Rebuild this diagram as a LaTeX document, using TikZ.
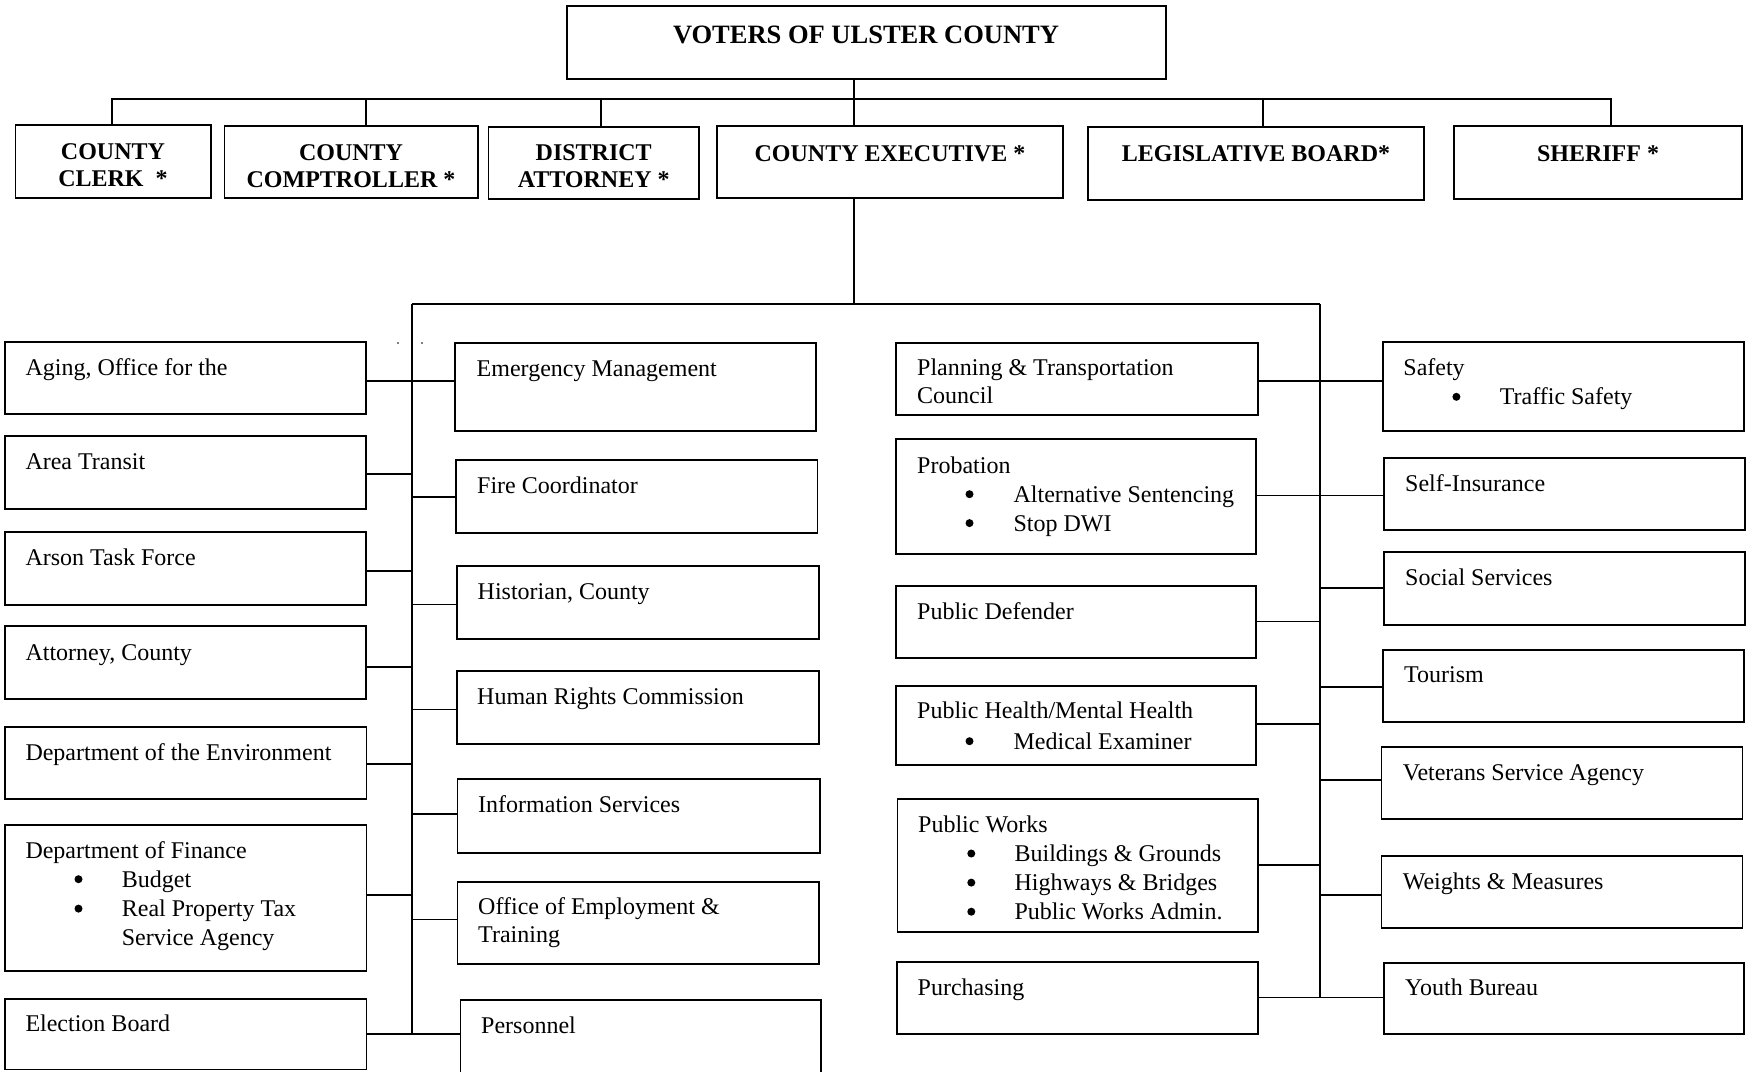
\documentclass[tikz,border=0pt]{standalone}
\usepackage{fontspec}
\setmainfont{Liberation Serif}
\usetikzlibrary{fit}
\tikzset{
  box/.style={draw, line width=1.8pt, inner sep=0pt},
  conn/.style={line width=1.6pt},
  thickconn/.style={line width=2.8pt},
  txt/.style={anchor=base west, inner sep=0pt, font=\fontsize{24}{27.6}\selectfont},
  txtb/.style={anchor=base west, inner sep=0pt, font=\fontsize{24}{29.1}\selectfont},
  hdr/.style={anchor=base, inner sep=0pt, font=\fontsize{24}{27.5}\selectfont\bfseries},
  dot/.style={fill=black},
}
\newcommand\bx[5]{\node[box, fit={(#2,#3) (#4,#5)}] (#1) {};}
\newcommand\bul{\hspace*{96.4pt}}
\newcommand\rows[1]{\begin{tabular}[t]{@{}l@{}}#1\end{tabular}}
\newcommand\crows[1]{\begin{tabular}[t]{@{}c@{}}#1\end{tabular}}
\begin{document}
\begin{tikzpicture}[x=1pt,y=-1pt]
\useasboundingbox (0,0) rectangle (1747,1071);
\fill[white] (0,0) rectangle (1747,1071);
\clip (0,0) rectangle (1747,1071);

% ---------- top level ----------
\bx{voters}{566.6}{6}{1166}{79}
\bx{clerk}{15.5}{125}{210.7}{198}
\bx{comp}{224.5}{126}{478}{198}
\bx{da}{488.5}{127}{699}{199}
\bx{exec}{717}{126}{1063}{198}
\bx{leg}{1088}{127}{1424}{200}
\bx{sheriff}{1454}{126}{1742}{199}

\node[hdr, font=\fontsize{26.5}{30}\selectfont\bfseries] (voters-t) at (866,43) {VOTERS OF ULSTER COUNTY};
\node[hdr] (clerk-t) at (113,159.3) {\crows{COUNTY\\CLERK\ \ *}};
\node[hdr] (comp-t) at (351,160) {\crows{COUNTY\\COMPTROLLER *}};
\node[hdr] (da-t) at (593.7,160) {\crows{DISTRICT\\ATTORNEY *}};
\node[hdr] (exec-t) at (890,161) {COUNTY EXECUTIVE *};
\node[hdr] (leg-t) at (1256,161.7) {LEGISLATIVE BOARD*};
\node[hdr] (sheriff-t) at (1598,161) {SHERIFF *};

\coordinate (top) at (854,99);
\draw[thickconn] (voters.south -| top) -- (exec.north -| top);
\draw[conn] (clerk.north -| 112,0) -- (112,99) -| (sheriff.north -| 1611,0);
\draw[conn] (comp.north -| 366,0) -- (366,99);
\draw[conn] (da.north -| 601,0) -- (601,99);
\draw[conn] (leg.north -| 1263,0) -- (1263,99);

% ---------- departments ----------
% left column
\bx{aging}{5}{342}{366}{414.3}
\bx{area}{5}{436}{366}{508.7}
\bx{arson}{5}{531.7}{366}{604.7}
\bx{attorney}{5}{626}{366}{699}
\bx{env}{5}{726.7}{366.5}{799.3}
\bx{finance}{5}{825.3}{366.5}{970.7}
\bx{election}{5}{999.3}{366.5}{1069.5}

\node[txt] (aging-t) at (25.3,375.5) {Aging, Office for the};
\node[txt] (area-t) at (25.3,469.7) {Area Transit};
\node[txt] (arson-t) at (25.3,565.7) {Arson Task Force};
\node[txt] (attorney-t) at (25.3,660.7) {Attorney, County};
\node[txt] (env-t) at (25.3,760.3) {Department of the Environment};
\node[txtb] (finance-t) at (25.3,858) {\rows{Department of Finance\\ \bul Budget\\ \bul Real Property Tax\\ \bul Service Agency}};
\node[txt] (election-t) at (25.3,1031.3) {Election Board};
\fill[dot] (78.5,879.2) circle (4);
\fill[dot] (78.5,908.6) circle (4);

% middle column
\bx{emerg}{455}{342.7}{816}{431}
\bx{fire}{456}{460.3}{817.5}{532.7}
\bx{hist}{457}{566}{818.6}{638.7}
\bx{hrc}{457}{671}{818.6}{744}
\bx{info}{457.5}{779}{819.7}{852.7}
\bx{oet}{457.5}{882}{818.6}{964.3}
\bx{personnel}{460.4}{1000}{821}{1090}

\node[txt] (emerg-t) at (476.5,376) {Emergency Management};
\node[txt] (fire-t) at (477,493.7) {Fire Coordinator};
\node[txt] (hist-t) at (477.5,599.7) {Historian, County};
\node[txt] (hrc-t) at (477,704.7) {Human Rights Commission};
\node[txt] (info-t) at (478,812.3) {Information Services};
\node[txt] (oet-t) at (478,914.7) {\rows{Office of Employment \&\\Training}};
\node[txt] (personnel-t) at (481,1033) {Personnel};

% right-centre column
\bx{planning}{896.3}{342.7}{1258}{415}
\bx{probation}{896.3}{439}{1256}{554.3}
\bx{pubdef}{896.3}{585.7}{1256}{657.7}
\bx{ph}{896.3}{686}{1256}{765}
\bx{pw}{897.5}{799}{1258}{931.7}
\bx{purch}{897}{962}{1258}{1034}

\node[txt, font=\fontsize{24}{27.3}\selectfont] (planning-t) at (917,375.7) {\rows{Planning \& Transportation\\Council}};
\node[txtb] (probation-t) at (917,473) {\rows{Probation\\ \bul Alternative Sentencing\\ \bul Stop DWI}};
\node[txt] (pubdef-t) at (917,619) {Public Defender};
\node[txt, font=\fontsize{24}{30.5}\selectfont] (ph-t) at (917,718.5) {\rows{Public Health/Mental Health\\ \bul Medical Examiner}};
\node[txtb] (pw-t) at (918,832.3) {\rows{Public Works\\ \bul Buildings \& Grounds\\ \bul Highways \& Bridges\\ \bul Public Works Admin.}};
\node[txt] (purch-t) at (917.5,995.3) {Purchasing};
\fill[dot] (969.5,494.2) circle (4);
\fill[dot] (969.5,523.1) circle (4);
\fill[dot] (969.5,741.2) circle (4);
\fill[dot] (971.3,853.5) circle (4);
\fill[dot] (971.3,882.6) circle (4);
\fill[dot] (971.3,911.7) circle (4);

% right column
\bx{safety}{1382.6}{342.3}{1744}{431}
\bx{selfins}{1383.7}{457.7}{1745}{530}
\bx{social}{1383.7}{552.3}{1745}{625}
\bx{tourism}{1382.6}{650}{1744}{721.7}
\bx{veterans}{1381.5}{747.3}{1742.5}{819.3}
\bx{weights}{1381.5}{856}{1742.5}{928.3}
\bx{youth}{1383.7}{962.7}{1744}{1034.3}

\node[txtb] (safety-t) at (1403.2,375.7) {\rows{Safety\\ \bul Traffic Safety}};
\node[txt] (selfins-t) at (1405,491.3) {Self-Insurance};
\node[txt] (social-t) at (1405,585.7) {Social Services};
\node[txt] (tourism-t) at (1404,682.3) {Tourism};
\node[txt] (veterans-t) at (1402.6,780.7) {Veterans Service Agency};
\node[txt] (weights-t) at (1402.6,889) {Weights \& Measures};
\node[txt] (youth-t) at (1405,995.3) {Youth Bureau};
\fill[dot] (1456.4,396.8) circle (4);

% ---------- bus lines ----------
\coordinate (busL) at (412,304);
\coordinate (busR) at (1320,304);
\coordinate (busC) at (854,304);
\draw[conn] (exec.south -| busC) -- (busC);
\draw[conn] (busL) -- (busR);
\draw[conn] (busL) -- (412,1034);
\draw[conn] (busR) -- (1320,997.3);

% left side connectors
\draw[conn] (aging.east |- 0,381) -- (emerg.west |- 0,381);
\draw[conn] (area.east |- 0,474) -- (busL |- 0,474);
\draw[conn] (arson.east |- 0,570.7) -- (busL |- 0,570.7);
\draw[conn] (attorney.east |- 0,666.7) -- (busL |- 0,666.7);
\draw[conn] (env.east |- 0,763.7) -- (busL |- 0,763.7);
\draw[conn] (finance.east |- 0,895) -- (busL |- 0,895);
\draw[conn] (election.east |- 0,1034) -- (personnel.west |- 0,1034);
\draw[conn] (busL |- 0,496.7) -- (fire.west |- 0,496.7);
\draw[conn] (busL |- 0,604.3) -- (hist.west |- 0,604.3);
\draw[conn] (busL |- 0,709.3) -- (hrc.west |- 0,709.3);
\draw[conn] (busL |- 0,813.7) -- (info.west |- 0,813.7);
\draw[conn] (busL |- 0,919.3) -- (oet.west |- 0,919.3);

% right side connectors
\draw[conn] (planning.east |- 0,381) -- (safety.west |- 0,381);
\draw[conn] (probation.east |- 0,495.3) -- (selfins.west |- 0,495.3);
\draw[conn] (pubdef.east |- 0,621.3) -- (busR |- 0,621.3);
\draw[conn] (ph.east |- 0,724) -- (busR |- 0,724);
\draw[conn] (pw.east |- 0,865) -- (busR |- 0,865);
\draw[conn] (purch.east |- 0,997.3) -- (youth.west |- 0,997.3);
\draw[conn] (busR |- 0,587.7) -- (social.west |- 0,587.7);
\draw[conn] (busR |- 0,686.7) -- (tourism.west |- 0,686.7);
\draw[conn] (busR |- 0,779.7) -- (veterans.west |- 0,779.7);
\draw[conn] (busR |- 0,895) -- (weights.west |- 0,895);

% specks
\fill (398,343) circle (0.8);
\fill (422,343) circle (0.8);
\end{tikzpicture}
\end{document}
